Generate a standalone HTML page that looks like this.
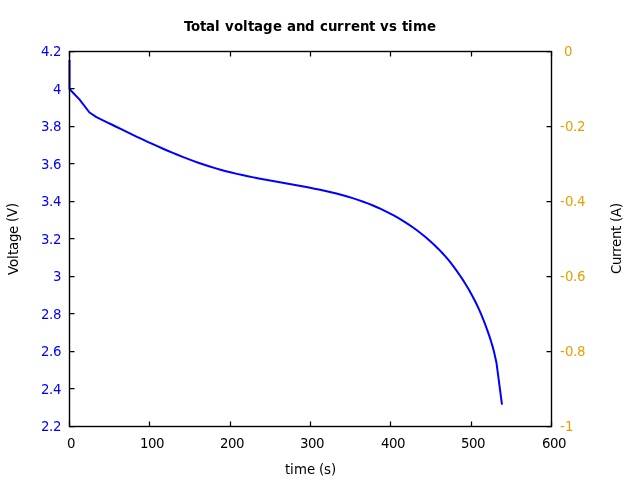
<!DOCTYPE html>
<html><head><meta charset="utf-8"><title>Total voltage and current vs time</title>
<style>html,body{margin:0;padding:0;background:#fff;overflow:hidden}svg{display:block}text{font-family:"DejaVu Sans","Liberation Sans",sans-serif;font-size:13.33px}</style></head><body>
<svg width="640" height="480" viewBox="0 0 640 480">
<rect width="640" height="480" fill="#fff"/>
<path d="M69.50,60.00 L69.50,89.00 L79.40,99.40 L89.50,112.50 L96.46,117.10 L101.50,119.56 L106.55,122.04 L111.60,124.51 L116.66,126.99 L121.72,129.46 L126.78,131.91 L131.85,134.35 L136.93,136.78 L142.02,139.17 L147.13,141.55 L152.24,143.89 L157.37,146.21 L162.52,148.50 L167.68,150.73 L172.86,152.92 L178.05,155.05 L183.27,157.13 L188.51,159.15 L193.77,161.10 L199.06,162.98 L204.37,164.79 L209.71,166.52 L215.08,168.16 L220.48,169.72 L225.91,171.19 L231.36,172.57 L236.84,173.88 L242.34,175.10 L247.86,176.27 L253.40,177.38 L258.95,178.46 L264.51,179.50 L270.08,180.52 L275.65,181.52 L281.22,182.51 L286.80,183.50 L292.37,184.50 L297.93,185.51 L303.49,186.54 L309.03,187.58 L314.56,188.67 L320.07,189.80 L325.55,190.99 L331.02,192.25 L336.46,193.58 L341.87,195.00 L347.25,196.51 L352.59,198.13 L357.89,199.85 L363.16,201.69 L368.38,203.65 L373.56,205.74 L378.68,207.96 L383.75,210.31 L388.76,212.80 L393.70,215.42 L398.57,218.18 L403.37,221.06 L408.09,224.08 L412.71,227.23 L417.25,230.52 L421.69,233.94 L426.03,237.49 L430.27,241.17 L434.39,244.98 L438.40,248.92 L442.29,252.98 L446.06,257.16 L449.63,261.46 L453.07,265.86 L456.38,270.36 L459.57,274.96 L462.73,279.65 L465.76,284.43 L468.66,289.28 L471.44,294.21 L474.09,299.21 L476.62,304.27 L479.02,309.38 L481.29,314.55 L483.44,319.77 L485.46,325.03 L487.36,330.32 L489.22,335.65 L490.95,341.00 L492.56,346.37 L493.98,351.75 L495.26,357.15 L496.45,362.70 L502.00,404.60" fill="none" stroke="#0000ff" stroke-width="2" stroke-linejoin="round" stroke-linecap="butt"/>
<text x="41 49 53" y="56" fill="#0000ff">4.2</text>
<text x="53" y="94" fill="#0000ff">4</text>
<text x="41 49 53" y="131" fill="#0000ff">3.8</text>
<text x="41 49 53" y="169" fill="#0000ff">3.6</text>
<text x="41 49 53" y="206" fill="#0000ff">3.4</text>
<text x="41 49 53" y="244" fill="#0000ff">3.2</text>
<text x="53" y="281" fill="#0000ff">3</text>
<text x="41 49 53" y="319" fill="#0000ff">2.8</text>
<text x="41 49 53" y="356" fill="#0000ff">2.6</text>
<text x="41 49 53" y="394" fill="#0000ff">2.4</text>
<text x="41 49 53" y="431" fill="#0000ff">2.2</text>
<text x="564" y="56" fill="#e69f00">0</text>
<text x="560 565 573 577" y="131" fill="#e69f00">-0.2</text>
<text x="560 565 573 577" y="206" fill="#e69f00">-0.4</text>
<text x="560 565 573 577" y="281" fill="#e69f00">-0.6</text>
<text x="560 565 573 577" y="356" fill="#e69f00">-0.8</text>
<text x="560 565" y="431" fill="#e69f00">-1</text>
<text x="67" y="448" fill="#000">0</text>
<text x="140 148 156" y="448" fill="#000">100</text>
<text x="220 228 236" y="448" fill="#000">200</text>
<text x="300 308 316" y="448" fill="#000">300</text>
<text x="381 389 397" y="448" fill="#000">400</text>
<text x="461 469 477" y="448" fill="#000">500</text>
<text x="542 550 558" y="448" fill="#000">600</text>
<path d="M69.5,51.5h5M69.5,88.5h5M69.5,126.5h5M69.5,163.5h5M69.5,201.5h5M69.5,238.5h5M69.5,276.5h5M69.5,313.5h5M69.5,351.5h5M69.5,388.5h5M69.5,426.5h5M551.5,51.5h-5M551.5,126.5h-5M551.5,201.5h-5M551.5,276.5h-5M551.5,351.5h-5M551.5,426.5h-5M69.5,426.5v-5M69.5,51.5v5M149.5,426.5v-5M149.5,51.5v5M230.5,426.5v-5M230.5,51.5v5M310.5,426.5v-5M310.5,51.5v5M390.5,426.5v-5M390.5,51.5v5M471.5,426.5v-5M471.5,51.5v5M551.5,426.5v-5M551.5,51.5v5" fill="none" stroke="#000" stroke-width="1.25"/>
<rect x="69.5" y="51.5" width="482.0" height="375.0" fill="none" stroke="#000" stroke-width="1.4"/>
<text x="184 191 200 206 215 220 225 234 243 248 254 263 273 282 287 296 305 315 320 328 337 344 351 360 369 375 380 389 397 402 408 413 427" y="31" font-weight="bold" fill="#000">Total voltage and current vs time</text>
<text x="285 290 294 307 315 319 324 331" y="474" fill="#000">time (s)</text>
<text transform="translate(18,275) rotate(-90)" x="0 8 16 20 25 33 41 49 53 58 67" y="0 0 0 0 0 0 0 0 -1 -1 -1" fill="#000">Voltage (V)</text>
<text transform="translate(621,274) rotate(-90)" x="0 9 17 22 27 35 43 48 52 57 66" y="0" fill="#000">Current (A)</text>
</svg>
</body></html>
